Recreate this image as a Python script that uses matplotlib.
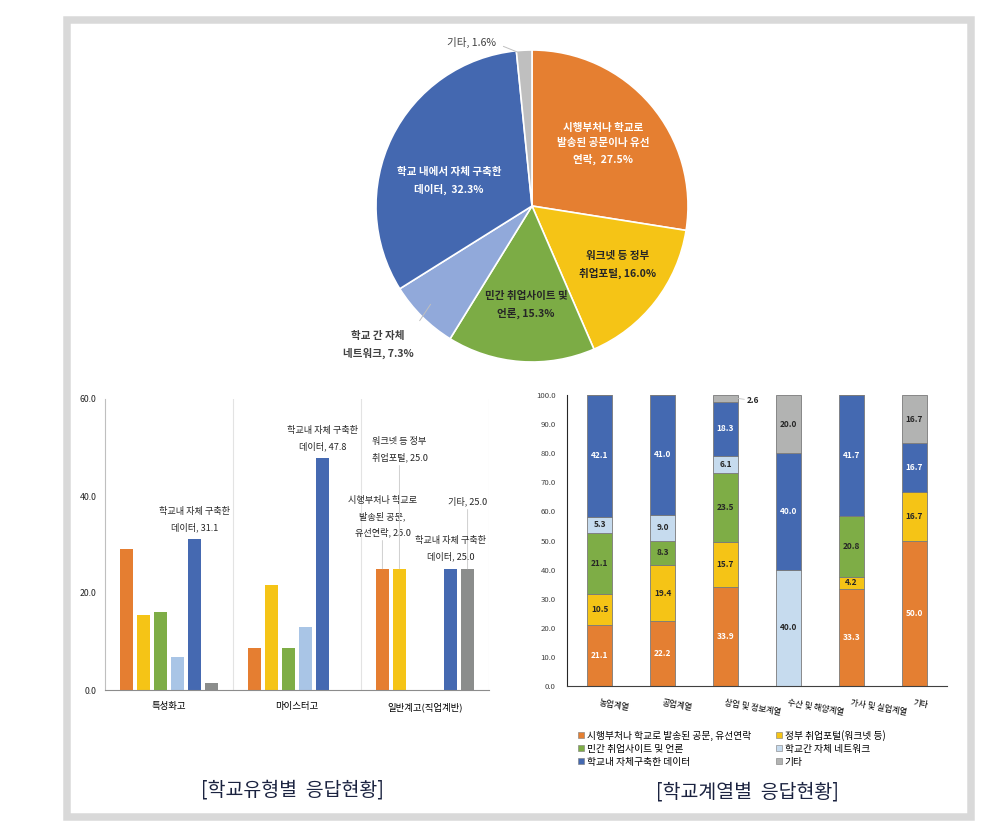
import matplotlib
matplotlib.use('Agg')
import matplotlib.pyplot as plt
import numpy as np
from matplotlib.patches import Rectangle, Patch

plt.rcParams['font.family'] = ['Noto Sans CJK KR', 'DejaVu Sans']

W, H = 1002, 824

# 파이 차트 (전체 응답)
pie_labels = ['시행부처나 학교로\n발송된 공문이나 유선\n연락,  27.5%', '워크넷 등 정부\n취업포털, 16.0%',
              '민간 취업사이트 및\n언론, 15.3%', '학교 간 자체\n네트워크, 7.3%',
              '학교 내에서 자체 구축한\n데이터,  32.3%', '기타, 1.6%']
pie_vals = [27.5, 16.0, 15.3, 7.3, 32.3, 1.6]

# 학교유형별
school_types = ['특성화고', '마이스터고', '일반계고(직업계반)']
t_orange = [29.1, 8.7, 25.0]
t_yellow = [15.5, 21.7, 25.0]
t_green = [16.1, 8.7, 0.0]
t_light = [6.9, 13.0, 0.0]
t_blue = [31.1, 47.8, 25.0]
t_gray = [1.4, 0.0, 25.0]

# 학교계열별
fields = ['농업계열', '공업계열', '상업 및 정보계열', '수산 및 해양계열', '가사 및 실업계열', '기타']
f_orange = [21.1, 22.2, 33.9, 0.0, 33.3, 50.0]
f_yellow = [10.5, 19.4, 15.7, 0.0, 4.2, 16.7]
f_green = [21.1, 8.3, 23.5, 0.0, 20.8, 0.0]
f_light = [5.3, 9.0, 6.1, 40.0, 0.0, 0.0]
f_blue = [42.1, 41.0, 18.3, 40.0, 41.7, 16.7]
f_gray = [0.0, 0.0, 2.6, 20.0, 0.0, 16.7]
legend_names = ['시행부처나 학교로 발송된 공문, 유선연락', '정부 취업포털(워크넷 등)',
                '민간 취업사이트 및 언론', '학교간 자체 네트워크',
                '학교내 자체구축한 데이터', '기타']


def rect(x0, y0, x1, y1):
    return [x0 / W, 1 - y1 / H, (x1 - x0) / W, (y1 - y0) / H]


fig = plt.figure(figsize=(W / 100, H / 100), dpi=100)
fig.patches.append(Rectangle((67 / W, 1 - 816.5 / H), 903.5 / W, 796.5 / H, transform=fig.transFigure,
                             fill=False, ec='#d9d9d9', lw=5.4))

# ---------- 파이 ----------
pie_colors = ['#E57F31', '#F5C416', '#7CAC45', '#91A9DA', '#4468B0', '#BFBFBF']
ax = fig.add_axes(rect(376, 50, 688, 362))
ax.pie(pie_vals, colors=pie_colors, startangle=90, counterclock=False,
       wedgeprops=dict(edgecolor='white', linewidth=1.2))
ax.set_xlim(-1, 1)
ax.set_ylim(-1, 1)
ax.axis('off')
pos = [(0.455, 0.397), (0.551, -0.378), (-0.038, -0.635), (-0.987, -0.891), (-0.532, 0.160), (-0.385, 1.051)]
tcol = ['white', '#262626', '#262626', '#404040', 'white', '#404040']
for i, lab in enumerate(pie_labels):
    ax.text(pos[i][0], pos[i][1], lab, ha='center', va='center', fontsize=7.6, color=tcol[i],
            fontweight='bold' if i < 5 else 'normal', linespacing=1.65)
ax.annotate('', xy=(-0.64, -0.615), xytext=(-0.73, -0.75),
            arrowprops=dict(arrowstyle='-', color='#bfbfbf', lw=0.7))
ax.annotate('', xy=(-0.077, 0.98), xytext=(-0.2, 1.03),
            arrowprops=dict(arrowstyle='-', color='#bfbfbf', lw=0.7))

# ---------- 학교유형별 ----------
lcolors = ['#E57E31', '#F5C416', '#7EAD46', '#A9C5E6', '#4569B1', '#8B8D8C']
series = [t_orange, t_yellow, t_green, t_light, t_blue, t_gray]
ax1 = fig.add_axes(rect(105, 399, 489, 690))
x = np.arange(len(school_types))
bars = []
for i, s in enumerate(series):
    bars.append(ax1.bar(x + (i - 2.5) * 0.133, s, 0.105, color=lcolors[i]))
ax1.set_xlim(-0.5, 2.5)
ax1.set_ylim(0, 60)
ax1.set_yticks([0, 20, 40, 60])
ax1.set_yticklabels(['%.1f' % v for v in [0, 20, 40, 60]], fontsize=6.3, color='#262626')
ax1.set_xticks(x)
ax1.set_xticklabels(school_types, fontsize=6.8)
ax1.tick_params(length=0, pad=9)
ax1.tick_params(axis='y', pad=6)
for sp in ['top', 'right']:
    ax1.spines[sp].set_visible(False)
ax1.spines['left'].set_color('#bfbfbf')
ax1.spines['bottom'].set_color('#8c8c8c')
for xv in [0.5, 1.5, 2.5]:
    ax1.axvline(xv, color='#e3e3e3', lw=0.8)

notes = [(4, 0, '학교내 자체 구축한\n데이터, 31.1', 7, False),
         (4, 1, '학교내 자체 구축한\n데이터, 47.8', 7, False),
         (0, 2, '시행부처나 학교로\n발송된 공문,\n유선연락, 25.0', 31, True),
         (1, 2, '워크넷 등 정부\n취업포털, 25.0', 106, True),
         (5, 2, '기타, 25.0', 62, True),
         (4, 2, '학교내 자체 구축한\n데이터, 25.0', 7, False)]
for si, ci, txt, off, line in notes:
    b = bars[si][ci]
    bx = b.get_x() + b.get_width() / 2
    ax1.annotate(txt, xy=(bx, b.get_height()), xytext=(0, off), textcoords='offset pixels',
                 ha='center', va='bottom', fontsize=6.6, color='#262626', linespacing=1.9,
                 arrowprops=dict(arrowstyle='-', color='#cfcfcf', lw=0.7, shrinkA=0, shrinkB=0) if line else None)

# ---------- 학교계열별 ----------
rcolors = ['#E47F32', '#F5C416', '#7EAD46', '#C6DBEE', '#4469B1', '#B2B3B2']
txtc = ['white', '#262626', '#262626', '#262626', 'white', '#262626']
fser = [f_orange, f_yellow, f_green, f_light, f_blue, f_gray]
ax2 = fig.add_axes(rect(567, 395, 947, 686))
xf = np.arange(len(fields))
bottom = np.zeros(len(fields))
handles = []
for i, s in enumerate(fser):
    s = np.array(s)
    bb = ax2.bar(xf, s, 0.4, bottom=bottom, color=rcolors[i], edgecolor='#7a7a7a', linewidth=0.6)
    handles.append(Patch(facecolor=rcolors[i], edgecolor='#7a7a7a', linewidth=0.4))
    for j, v in enumerate(s):
        if v <= 0:
            continue
        if v < 5 and i == 5:
            ax2.annotate('%.1f' % v, xy=(xf[j] + 0.2, bottom[j] + v / 2), xytext=(9, -2),
                         textcoords='offset pixels', ha='left', va='center', fontsize=6,
                         fontweight='bold', color='#262626',
                         arrowprops=dict(arrowstyle='-', color='#bfbfbf', lw=0.6, shrinkA=0, shrinkB=0))
        else:
            ax2.text(xf[j], bottom[j] + v / 2, '%.1f' % v, ha='center', va='center', fontsize=6,
                     fontweight='bold', color=txtc[i])
    bottom = bottom + s
ax2.set_xlim(-0.52, 5.52)
ax2.set_ylim(0, 100)
ax2.set_yticks(np.arange(0, 101, 10))
ax2.set_yticklabels(['%.1f' % v for v in np.arange(0, 101, 10)], fontsize=5.6, color='#404040')
ax2.set_xticks(xf)
ax2.set_xticklabels(fields, fontsize=6, rotation=-10, ha='left', va='top', rotation_mode='anchor')
ax2.tick_params(length=0)
ax2.tick_params(axis='x', pad=9)
ax2.tick_params(axis='y', pad=8)
for sp in ['top', 'right']:
    ax2.spines[sp].set_visible(False)
ax2.spines['left'].set_color('#262626')
ax2.spines['bottom'].set_color('#404040')

order = [0, 2, 4, 1, 3, 5]
fig.legend([handles[k] for k in order], [legend_names[k] for k in order], loc='upper left',
           bbox_to_anchor=(573 / W, 1 - 725 / H), ncol=2, frameon=False, fontsize=7,
           handlelength=0.6, handleheight=0.6, handletextpad=0.3, columnspacing=2.6, labelspacing=0.3,
           borderpad=0)

fig.text(292 / W, 1 - 790 / H, '[학교유형별  응답현황]', ha='center', va='center', fontsize=14, color='#1b2340')
fig.text(747 / W, 1 - 792 / H, '[학교계열별  응답현황]', ha='center', va='center', fontsize=14, color='#1b2340')

plt.savefig('out.png', dpi=100)
plt.close()
